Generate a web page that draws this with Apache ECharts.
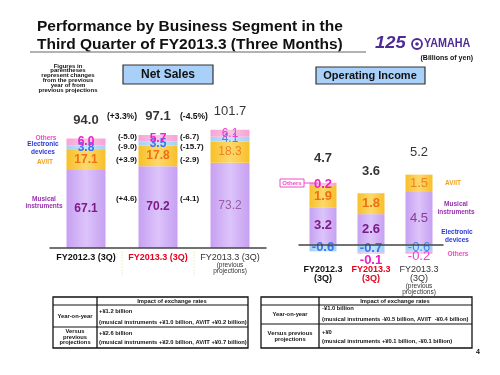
<!DOCTYPE html>
<html lang="en" style="height: 100%">
<head>
  <meta charset="utf-8">
</head>
<body style="height: 100%; margin: 0; background: #fff">
  <div id="container" style="width: 500px; height: 375px"></div>

  <script type="text/javascript" src="https://fastly.jsdelivr.net/npm/echarts@6.0.0/dist/echarts.min.js"></script>
  <script type="text/javascript">
    var dom = document.getElementById('container');
    var myChart = echarts.init(dom, null, { renderer: 'canvas' });

    // Net sales (billions of yen)
    var nsCats = ['FY2012.3 (3Q)', 'FY2013.3 (3Q)', 'FY2013.3 (3Q)'];
    var nsMusical = [67.1, 70.2, 73.2];
    var nsAvit = [17.1, 17.8, 18.3];
    var nsElectronic = [3.8, 3.5, 4.1];
    var nsOthers = [6.0, 5.7, 6.1];
    var nsTotal = [94.0, 97.1, 101.7];
    // changes in parentheses: total, others, electronic, AV/IT, musical
    var nsYoY = ['(+3.3%)', '(-5.0)', '(-9.0)', '(+3.9)', '(+4.6)'];
    var nsVsProj = ['(-4.5%)', '(-6.7)', '(-15.7)', '(-2.9)', '(-4.1)'];

    // Operating income (billions of yen)
    var oiCats = ['FY2012.3 (3Q)', 'FY2013.3 (3Q)', 'FY2013.3 (3Q)'];
    var oiMusical = [3.2, 2.6, 4.5];
    var oiAvit = [1.9, 1.8, 1.5];
    var oiElectronic = [-0.6, -0.7, -0.6];
    var oiOthers = [0.2, -0.1, -0.2];
    var oiTotal = [4.7, 3.6, 5.2];

    var FONT = '"Liberation Sans", Arial, sans-serif';

    function grad(edge, mid) {
      return new echarts.graphic.LinearGradient(0, 0, 1, 0, [
        { offset: 0, color: edge }, { offset: 0.5, color: mid }, { offset: 1, color: edge }
      ]);
    }
    var cMI = grad('#c7a0f2', '#dcc4fa');
    var cAV = grad('#f8bf28', '#fcd96c');
    var cEL = grad('#a2d0f5', '#c6e5fb');
    var cOT = grad('#f5a3d4', '#fbc6e6');

    // label colours: actual bars, projection bar
    function seg(values, colors, extra) {
      return values.map(function (v, i) {
        var item = {
          value: v,
          label: { color: colors[i], fontWeight: i < 2 ? 'bold' : 'normal' }
        };
        if (extra && extra[i]) {
          for (var k in extra[i]) item.label[k] = extra[i][k];
        }
        return item;
      });
    }
    var fmt1 = function (p) { return p.value.toFixed(1); };

    function barSeries(name, stack, axis, width, color, data, size) {
      return {
        name: name, type: 'bar', stack: stack,
        xAxisIndex: axis, yAxisIndex: axis,
        barWidth: width,
        itemStyle: { color: color },
        label: { show: true, position: 'inside', fontFamily: FONT, fontSize: size, formatter: fmt1 },
        data: data
      };
    }

    function totalSeries(axis, values, dist) {
      return {
        type: 'scatter', xAxisIndex: axis, yAxisIndex: axis,
        symbolSize: 0, silent: true, z: 5,
        label: {
          show: true, position: 'top', distance: dist,
          fontFamily: FONT, fontSize: 13, color: '#000', formatter: fmt1
        },
        data: values.map(function (v, i) {
          return { value: v, label: { fontWeight: i < 2 ? 'bold' : 'normal' } };
        })
      };
    }

    var catRich = {
      a: { fontFamily: FONT, fontSize: 9, fontWeight: 'bold', color: '#111', lineHeight: 9 },
      r: { fontFamily: FONT, fontSize: 9, fontWeight: 'bold', color: '#e8001c', lineHeight: 9 },
      n: { fontFamily: FONT, fontSize: 9, color: '#333', lineHeight: 9 },
      s: { fontFamily: FONT, fontSize: 6.5, color: '#333', lineHeight: 6 }
    };

    function txt(x, y, text, size, color, o) {
      o = o || {};
      return {
        type: 'text', x: x, y: y, z: 10,
        scaleX: o.sx || 1,
        style: {
          text: text,
          font: (o.weight || 'bold') + ' ' + size + 'px ' + FONT,
          fill: color,
          textAlign: o.align || 'center',
          textVerticalAlign: o.valign || 'middle',
          lineHeight: o.lh
        }
      };
    }
    function line(x1, y1, x2, y2, color, w) {
      return { type: 'line', z: 10, shape: { x1: x1, y1: y1, x2: x2, y2: y2 }, style: { stroke: color, lineWidth: w || 1 } };
    }
    function box(x, y, w, h, fill, stroke, lw) {
      return { type: 'rect', z: 9, shape: { x: x, y: y, width: w, height: h }, style: { fill: fill, stroke: stroke, lineWidth: lw || 1 } };
    }

    var graphics = [
      // title
      txt(37, 27, 'Performance by Business Segment in the', 15.5, '#111', { align: 'left' }),
      txt(37, 45, 'Third Quarter of FY2013.3 (Three Months)', 15.5, '#111', { align: 'left' }),
      line(30, 52, 366, 52, '#999', 1.5),
      // logo
      txt(375, 44, '125', 16, '#4e2a96', { align: 'left', weight: 'italic bold', sx: 1.15 }),
      { type: 'circle', z: 10, shape: { cx: 417, cy: 44, r: 5 }, style: { fill: '#fff', stroke: '#4e2a96', lineWidth: 1.8 } },
      { type: 'circle', z: 10, shape: { cx: 417, cy: 44, r: 1.8 }, style: { fill: '#4e2a96' } },
      txt(424, 44, 'YAMAHA', 12.5, '#4e2a96', { align: 'left', sx: 0.86 }),
      txt(473, 58, '(Billions of yen)', 7, '#111', { align: 'right' }),
      // note
      txt(68, 78, 'Figures in\nparentheses\nrepresent changes\nfrom the previous\nyear of from\nprevious projections', 6, '#111', { lh: 4.8 }),
      // section boxes
      box(123, 65, 90, 19, '#a8d0f8', '#333', 1.2),
      txt(168, 75, 'Net Sales', 12, '#111'),
      box(316, 67, 109, 17, '#a8d0f8', '#333', 1.2),
      txt(370, 75.5, 'Operating Income', 11, '#111'),
      // net sales side labels
      txt(46, 138, 'Others', 6.5, '#f04ac4'),
      txt(43, 144.5, 'Electronic', 6.5, '#2838d8'),
      txt(43, 152, 'devices', 6.5, '#2838d8'),
      txt(45, 162, 'AV/IT', 6.5, '#f0a020'),
      txt(44, 199, 'Musical', 6.5, '#9a30b0'),
      txt(44, 206.5, 'instruments', 6.5, '#9a30b0'),
      // operating income side labels
      txt(453, 183, 'AV/IT', 6.5, '#f0a020'),
      txt(456, 204, 'Musical', 6.5, '#9a30b0'),
      txt(456, 212, 'instruments', 6.5, '#9a30b0'),
      txt(457, 232, 'Electronic', 6.5, '#2838d8'),
      txt(457, 240, 'devices', 6.5, '#2838d8'),
      txt(458, 254, 'Others', 6.5, '#f04ac4'),
      box(280, 179, 24, 8, '#fff', '#f04ac4', 1),
      txt(292, 183, 'Others', 6, '#f04ac4'),
      line(304, 183, 318, 183, '#f04ac4', 1),
      // faint separators under the net sales axis
      { type: 'line', z: 1, shape: { x1: 122, y1: 251, x2: 122, y2: 276 }, style: { stroke: '#f2f0b8', lineWidth: 1, lineDash: [2, 1] } },
      { type: 'line', z: 1, shape: { x1: 194, y1: 251, x2: 194, y2: 276 }, style: { stroke: '#f2f0b8', lineWidth: 1, lineDash: [2, 1] } }
    ];

    // change annotations
    var yoyY = [117, 137, 146.5, 160, 199];
    var projY = [117, 137, 147, 160, 199];
    nsYoY.forEach(function (t, i) {
      graphics.push(txt(137, yoyY[i], t, i === 0 ? 8.5 : 8, '#111', { align: 'right' }));
    });
    nsVsProj.forEach(function (t, i) {
      graphics.push(txt(180, projY[i], t, i === 0 ? 8.5 : 8, '#111', { align: 'left' }));
    });

    // exchange-rate tables
    var TF = 5.8;
    graphics.push(
      box(53, 297, 195, 51, '#fff', '#111', 1.3),
      line(53, 305, 248, 305, '#111', 1), line(53, 327, 248, 327, '#111', 1), line(97, 297, 97, 348, '#111', 1.3),
      txt(172, 301, 'Impact of exchange rates', TF, '#111'),
      txt(75, 316, 'Year-on-year', TF, '#111'),
      txt(99, 311, '+\u00a51.2 billion', TF, '#111', { align: 'left' }),
      txt(99, 322, '(musical instruments +\u00a51.0 billion, AV/IT +\u00a50.2 billion)', TF, '#111', { align: 'left' }),
      txt(75, 337, 'Versus\nprevious\nprojections', TF, '#111', { lh: 5.8 }),
      txt(99, 333, '+\u00a52.6 billion', TF, '#111', { align: 'left' }),
      txt(99, 342, '(musical instruments +\u00a52.0 billion, AV/IT +\u00a50.7 billion)', TF, '#111', { align: 'left' }),

      box(261, 297, 211, 51, '#fff', '#111', 1.3),
      line(261, 305, 472, 305, '#111', 1), line(261, 324, 472, 324, '#111', 1), line(319, 297, 319, 348, '#111', 1.3),
      txt(395, 301, 'Impact of exchange rates', TF, '#111'),
      txt(290, 314, 'Year-on-year', TF, '#111'),
      txt(322, 308, '-\u00a51.0 billion', TF, '#111', { align: 'left' }),
      txt(322, 319, '(musical instruments -\u00a50.5 billion, AV/IT  -\u00a50.4 billion)', TF, '#111', { align: 'left' }),
      txt(290, 336, 'Versus previous\nprojections', TF, '#111', { lh: 5.8 }),
      txt(322, 332, '+\u00a50', TF, '#111', { align: 'left' }),
      txt(322, 341, '(musical instruments +\u00a50.1 billion, -\u00a50.1 billion)', TF, '#111', { align: 'left' }),
      txt(478, 352, '4', 7, '#111')
    );

    var option = {
      animation: false,
      textStyle: { fontFamily: FONT },
      grid: [
        { left: 50, width: 216, top: 120, height: 128 },
        { left: 299, width: 144, top: 163, height: 93 }
      ],
      xAxis: [
        {
          gridIndex: 0, type: 'category', data: nsCats, z: 3,
          axisLine: { lineStyle: { color: '#444', width: 1.5 } },
          axisTick: { inside: true, length: 4, lineStyle: { color: '#444' } },
          axisLabel: {
            interval: 0, margin: 5, rich: catRich,
            formatter: function (v, i) {
              if (i === 0) return '{a|' + v + '}';
              if (i === 1) return '{r|' + v + '}';
              return '{n|' + v + '}\n{s|(previous}\n{s|projections)}';
            }
          }
        },
        {
          gridIndex: 1, type: 'category', data: oiCats, z: 3,
          axisLine: { lineStyle: { color: '#444', width: 1.5 } },
          axisTick: { inside: true, length: 4, lineStyle: { color: '#444' } },
          axisLabel: {
            interval: 0, margin: 9, rich: catRich,
            formatter: function (v, i) {
              var p = v.split(' ');
              if (i === 0) return '{a|' + p[0] + '}\n{a|' + p[1] + '}';
              if (i === 1) return '{r|' + p[0] + '}\n{r|' + p[1] + '}';
              return '{n|' + p[0] + '}\n{n|' + p[1] + '}\n{s|(previous}\n{s|projections)}';
            }
          }
        }
      ],
      yAxis: [
        { gridIndex: 0, type: 'value', min: 0, max: 110, show: false },
        { gridIndex: 1, type: 'value', min: -1, max: 7, show: false }
      ],
      graphic: graphics,
      series: [
        barSeries('Musical instruments', 'ns', 0, 39, cMI, seg(nsMusical, ['#7d1a86', '#7d1a86', '#9b5aa8']), 12),
        barSeries('AV/IT', 'ns', 0, 39, cAV, seg(nsAvit, ['#ef6f14', '#ef6f14', '#f0812a']), 12),
        barSeries('Electronic devices', 'ns', 0, 39, cEL, seg(nsElectronic, ['#3a72f2', '#3a72f2', '#4a80f2']), 12),
        barSeries('Others', 'ns', 0, 39, cOT, seg(nsOthers, ['#f01ec8', '#f01ec8', '#f03ccc']), 12),
        totalSeries(0, nsTotal, 12),

        barSeries('Musical instruments', 'oi', 1, 27, cMI, seg(oiMusical, ['#7d1a86', '#7d1a86', '#8a3a98']), 13),
        barSeries('AV/IT', 'oi', 1, 27, cAV, seg(oiAvit, ['#ef6f14', '#ef6f14', '#f0812a']), 13),
        barSeries('Electronic devices', 'oi', 1, 27, cEL, seg(oiElectronic, ['#3a72f2', '#3a72f2', '#4a80f2']), 13),
        barSeries('Others', 'oi', 1, 27, cOT, seg(oiOthers, ['#f01ec8', '#f01ec8', '#f03ccc'],
          [null, { position: 'bottom', distance: 0 }, { position: 'bottom', distance: -4 }]), 13),
        totalSeries(1, oiTotal, 25)
      ]
    };

    myChart.setOption(option);
    window.addEventListener('resize', myChart.resize);
  </script>
</body>
</html>
